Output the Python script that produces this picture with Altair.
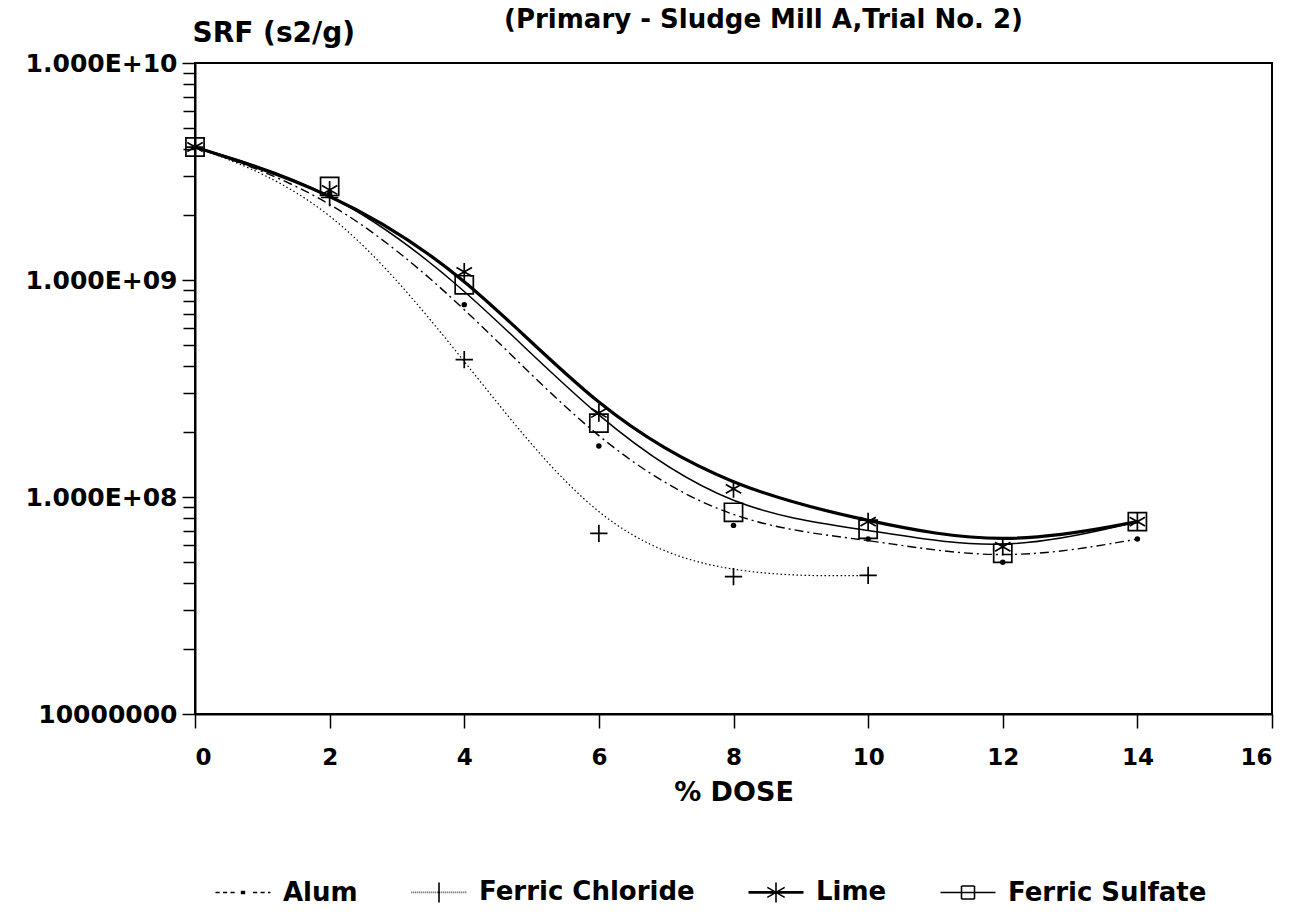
import altair as alt
import pandas as pd

# ---- data ----
dose = [0, 2, 4, 6, 8, 10, 12, 14]
alum = [4.1e9, 2.5e9, 7.7e8, 1.72e8, 7.4e7, 6.4e7, 5.0e7, 6.4e7]
ferric_chloride = [4.1e9, 2.4e9, 4.3e8, 6.8e7, 4.3e7, 4.35e7]
lime = [4.1e9, 2.6e9, 1.09e9, 2.44e8, 1.09e8, 7.7e7, 5.9e7, 7.7e7]
ferric_sulfate = [4.1e9, 2.7e9, 9.5e8, 2.19e8, 8.5e7, 7.1e7, 5.5e7, 7.7e7]

series = ["Alum", "Ferric Chloride", "Lime", "Ferric Sulfate"]
x_ticks = [0, 2, 4, 6, 8, 10, 12, 14, 16]
y_major = [1e7, 1e8, 1e9, 1e10]
y_minor = [k * 10 ** d for d in (7, 8, 9) for k in range(2, 10)]

rows = []
for name, vals in zip(series, [alum, ferric_chloride, lime, ferric_sulfate]):
    for d, v in zip(dose, vals):
        rows.append({"dose": d, "srf": v, "series": name})
df = pd.DataFrame(rows)

FONT = "DejaVu Sans"

# ---- style ----
line_styles = {
    "Alum": ([9, 4, 2, 4], 1.4),
    "Ferric Chloride": ([1.5, 2.5], 1.2),
    "Lime": (None, 3.2),
    "Ferric Sulfate": (None, 1.5),
}

plus_path = "M-1,0L1,0M0,-1L0,1"
star_path = "M0,-1L0,1M-0.87,-0.5L0.87,0.5M-0.87,0.5L0.87,-0.5"
square_path = "M-1,-1L1,-1L1,1L-1,1Z"


def seg_line(x0, x1, seg, gap, skip=None):
    out = []
    x = x0
    while x < x1 - 1e-9:
        e = min(x + seg, x1)
        inside = skip is not None and ((skip[0] < x < skip[1]) or (skip[0] < e < skip[1]))
        if not inside:
            out.append(f"M{x:.2f},0L{e:.2f},0")
        x = e + gap
    return "".join(out)


L = 2.75
leg_alum = seg_line(-L, L, 0.42, 0.33, skip=(-0.45, 0.45)) + \
    "M-0.22,0L0.22,0M-0.22,-0.1L0.22,-0.1M-0.22,0.1L0.22,0.1"
leg_fc = seg_line(-L, L, 0.07, 0.13) + "M0,-1L0,1"
leg_lime = f"M{-L},-0.06L{L},-0.06M{-L},0.06L{L},0.06" + \
    "M0,-1L0,1M-0.87,-0.5L0.87,0.5M-0.87,0.5L0.87,-0.5"
S = 0.65
leg_fs = f"M{-L},0L{-S},0M{S},0L{L},0" + \
    f"M{-S},{-S}L{S},{-S}M{S},{-S}L{S},{S}M{S},{S}L{-S},{S}M{-S},{S}L{-S},{-S}M{-S},0L{S},0"
legend_paths = [leg_alum, leg_fc, leg_lime, leg_fs]

x_scale = alt.Scale(domain=[0, 16], nice=False, zero=False)
y_scale = alt.Scale(type="log", domain=[1e7, 1e10], nice=False)

x_axis = alt.Axis(values=x_ticks, title="% DOSE", tickSize=14, labelPadding=18,
                  labelFontSize=23, titleFontSize=27, titlePadding=10, format="d",
                  grid=False, labelFont=FONT, titleFont=FONT, labelFontWeight="bold",
                  titleFontWeight="bold")
y_axis = alt.Axis(values=y_major, orient="left", tickSize=13, labelPadding=5,
                  labelFontSize=25, grid=False, labelFont=FONT, titleFont=FONT,
                  labelFontWeight="bold", titleFontWeight="bold",
                  labelExpr="datum.value < 5e7 ? '10000000' : '1.000E+' + (datum.value < 5e9 ? '0' : '') + round(log(datum.value)/LN10)",
                  title="SRF (s2/g)", titleAngle=0, titleAlign="left",
                  titleBaseline="middle", titleX=-3, titleY=-30, titleFontSize=28)
y_minor_axis = alt.Axis(values=y_minor, orient="left", tickSize=12, labels=False,
                        domain=False, title=None, grid=False)

layers = []
for i, name in enumerate(series):
    dash, width = line_styles[name]
    kw = {"interpolate": "basis", "color": "black", "strokeWidth": width}
    if dash:
        kw["strokeDash"] = dash
    first = i == 0
    layers.append(
        alt.Chart(df).transform_filter(alt.datum.series == name).mark_line(**kw).encode(
            x=alt.X("dose:Q", scale=x_scale, axis=x_axis if first else None),
            y=alt.Y("srf:Q", scale=y_scale, axis=y_axis if first else None),
        )
    )

marks = alt.Chart(df).transform_filter("datum.series != 'Alum'").mark_point(
    filled=False, color="black", opacity=1, strokeWidth=1.7
).encode(
    x=alt.X("dose:Q", scale=x_scale, axis=None),
    y=alt.Y("srf:Q", scale=y_scale, axis=y_minor_axis),
    shape=alt.Shape("series:N", scale=alt.Scale(domain=series[1:], range=[plus_path, star_path, square_path]), legend=None),
    size=alt.Size("series:N", scale=alt.Scale(domain=series[1:], range=[300, 330, 170]), legend=None),
)

alum_dots = alt.Chart(df).transform_filter("datum.series == 'Alum'").mark_point(
    filled=True, shape="circle", size=30, color="black", opacity=1
).encode(
    x=alt.X("dose:Q", scale=x_scale, axis=None),
    y=alt.Y("srf:Q", scale=y_scale, axis=None),
)

legend_layer = alt.Chart(df).transform_filter("false").mark_point(
    color="black", filled=False
).encode(
    shape=alt.Shape("series:N", scale=alt.Scale(domain=series, range=legend_paths),
                    legend=alt.Legend(title=None, orient="none", direction="horizontal",
                                      legendX=35, legendY=816,
                                      symbolSize=400, symbolStrokeColor="black",
                                      symbolFillColor="transparent", symbolStrokeWidth=1.6,
                                      symbolOpacity=1,
                                      labelFontSize=26, labelFont=FONT, labelFontWeight="bold",
                                      labelColor="black", labelOffset=27, columnPadding=50,
                                      labelLimit=0, symbolOffset=0)),
)

chart = alt.layer(*layers, marks, alum_dots, legend_layer).resolve_scale(
    shape="independent", size="independent"
).resolve_axis(y="independent", x="independent").properties(
    width=1077, height=651,
    background="white",
    autosize=alt.AutoSizeParams(type="none"),
    padding={"left": 195, "top": 63, "right": 21, "bottom": 205},
    title=alt.TitleParams("(Primary - Sludge Mill A,Trial No. 2)", fontSize=26, font=FONT,
                          fontWeight="bold", anchor="middle", frame="group", dx=30, dy=22,
                          offset=8, color="black"),
).configure_view(stroke="black", strokeWidth=2).configure_axis(
    domainColor="black", domainWidth=2, tickColor="black", tickWidth=1.5,
    labelColor="black", titleColor="black", grid=False,
)

chart.save("out.html", embed_options={"renderer": "svg", "actions": False})
